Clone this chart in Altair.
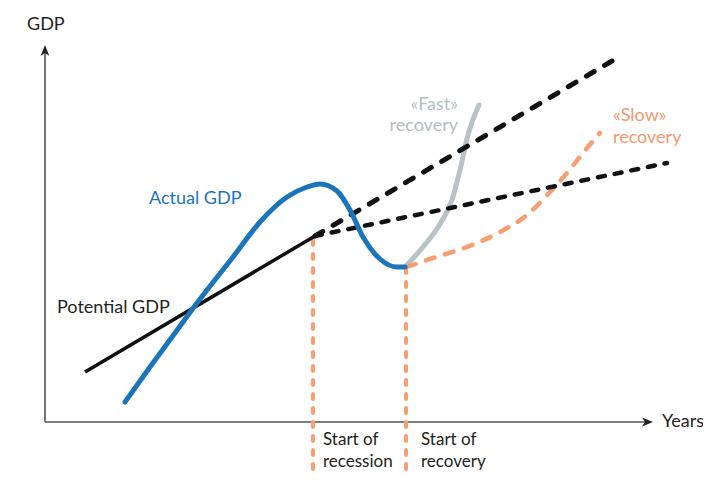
import altair as alt
import pandas as pd

# ---- data (x = years axis position, y = GDP axis position) ----
potential_x = [85, 315]
potential_y = [372, 236]

trend_high_x = [315, 612]
trend_high_y = [236, 61]

trend_low_x = [315, 667]
trend_low_y = [236, 163]

actual_x = [125, 150, 175, 197, 233, 260, 287, 307, 320, 337, 350, 363, 380, 397, 405]
actual_y = [402, 367, 333, 303, 257, 222, 197, 187, 184, 191, 210, 237, 259, 267, 267]

fast_x = [406, 423, 440, 452, 460, 468, 479]
fast_y = [266, 247, 224, 200, 170, 135, 105]

slow_x = [407, 433, 467, 500, 527, 550, 567, 587, 600]
slow_y = [267, 258, 247, 232, 215, 192, 173, 148, 133]

recession_x = [313, 313]
recession_y = [240, 481]
recovery_x = [406, 406]
recovery_y = [268, 481]

yaxis_x = [45, 45]
yaxis_y = [52, 422]
xaxis_x = [45, 645]
xaxis_y = [422, 422]

label_text = ["GDP", "Years", "Actual GDP", "Potential GDP", "«Fast»", "recovery",
              "«Slow»", "recovery", "Start of", "recession", "Start of", "recovery"]
label_x = [27, 662, 149, 57, 458, 458, 613, 613, 323, 323, 421, 421]
label_y = [30, 427, 204, 313, 110, 131, 121, 143, 445, 467, 445, 467]
label_size = [18, 18, 18, 18, 18, 18, 18, 18, 17, 17, 17, 17]
label_color = ["#231f20", "#231f20", "#1b75bc", "#231f20", "#b4bec2", "#b4bec2",
               "#f5976a", "#f5976a", "#231f20", "#231f20", "#231f20", "#231f20"]
label_align = ["left", "left", "left", "left", "right", "right",
               "left", "left", "left", "left", "left", "left"]

BLUE = "#1b75bc"
ORANGE = "#f79e73"
GREY = "#b9c3c7"
BLACK = "#111111"
AXIS = "#555555"

W, H = 695, 465
xscale = alt.Scale(domain=[8, 8 + W], nice=False, zero=False)
yscale = alt.Scale(domain=[8, 8 + H], nice=False, zero=False, reverse=True)


def line(xs, ys, color, width, dash=None, cap="round"):
    df = pd.DataFrame({"x": xs, "y": ys, "i": list(range(len(xs)))})
    kw = dict(color=color, strokeWidth=width, strokeCap=cap, interpolate="monotone", clip=True)
    if dash:
        kw["strokeDash"] = dash
    return alt.Chart(df).mark_line(**kw).encode(
        x=alt.X("x:Q", scale=xscale, axis=None),
        y=alt.Y("y:Q", scale=yscale, axis=None),
        order="i:O",
    )


def arrow(x, y, path):
    df = pd.DataFrame({"x": [x], "y": [y]})
    return alt.Chart(df).mark_point(shape=path, size=121, filled=True, color="#222222",
                                    opacity=1, strokeWidth=0).encode(
        x=alt.X("x:Q", scale=xscale, axis=None),
        y=alt.Y("y:Q", scale=yscale, axis=None),
    )


labels_df = pd.DataFrame({"x": label_x, "y": label_y, "t": label_text, "s": label_size,
                          "c": label_color, "a": label_align})

text_layers = []
for al in ["left", "right"]:
    sub = labels_df[labels_df["a"] == al]
    text_layers.append(
        alt.Chart(sub).mark_text(align=al, baseline="alphabetic", font="Lato").encode(
            x=alt.X("x:Q", scale=xscale, axis=None),
            y=alt.Y("y:Q", scale=yscale, axis=None),
            text="t:N",
            size=alt.Size("s:Q", scale=None),
            color=alt.Color("c:N", scale=None),
        )
    )

layers = [
    line(yaxis_x, yaxis_y, AXIS, 1.6, cap="butt"),
    line(xaxis_x, xaxis_y, AXIS, 1.6, cap="butt"),
    arrow(45, 50.5, "M0,-1L0.8,1L0,0.45L-0.8,1Z"),
    arrow(647.5, 422, "M1,0L-1,0.8L-0.45,0L-1,-0.8Z"),
    line(recession_x, recession_y, ORANGE, 4, dash=[5, 9]),
    line(recovery_x, recovery_y, ORANGE, 4, dash=[5, 9]),
    line(fast_x, fast_y, GREY, 5),
    line(slow_x, slow_y, ORANGE, 4.5, dash=[9, 11]),
    line(potential_x, potential_y, BLACK, 3.5, cap="butt"),
    line(trend_high_x, trend_high_y, BLACK, 5, dash=[9, 12]),
    line(trend_low_x, trend_low_y, BLACK, 4.5, dash=[7, 10]),
    line(actual_x, actual_y, BLUE, 5),
] + text_layers

chart = alt.layer(*layers).properties(
    width=W, height=H, padding=0, background="white",
    autosize=alt.AutoSizeParams(type="none")
).configure_view(stroke=None)

chart.save("out.html", embed_options={"renderer": "svg", "actions": False})
